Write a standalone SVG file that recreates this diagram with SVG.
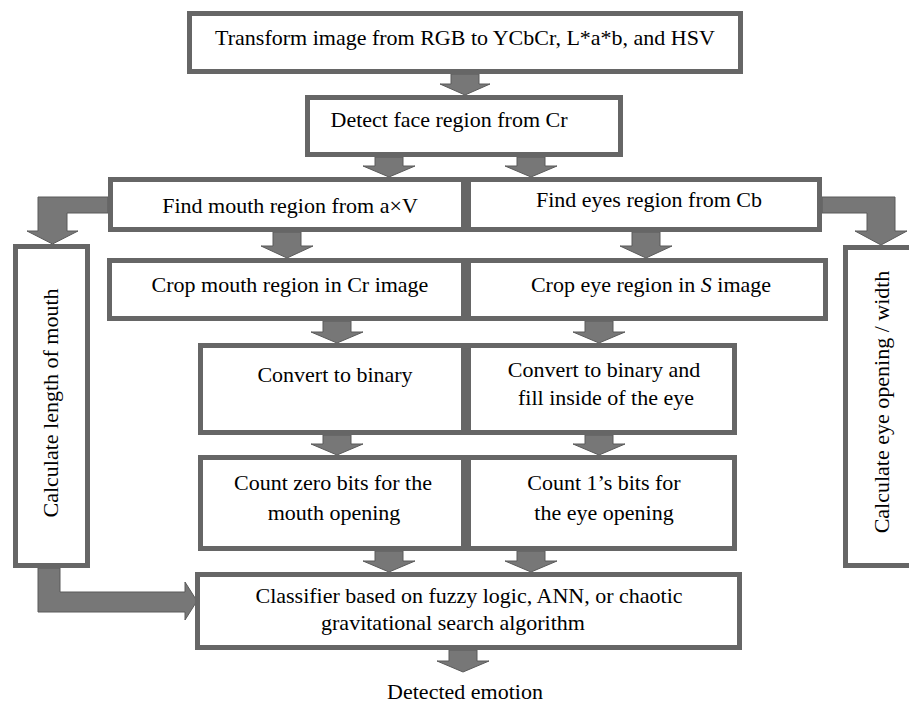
<svg xmlns="http://www.w3.org/2000/svg" width="909" height="708" viewBox="0 0 909 708">
<style>
.box{fill:#fff;stroke:#666;stroke-width:5}
.arr{fill:#777;stroke:#5a5a5a;stroke-width:1}
text{font-family:"Liberation Serif","Times New Roman",serif;font-size:22px;fill:#000}
.c{text-anchor:middle}
</style>
<rect width="909" height="708" fill="#fff"/>
<g id="connectors">
<path class="arr" d="M451,74 L479,74 L479,84 L490,84 L465,95 L440,84 L451,84 Z"/>
<path class="arr" d="M375,157 L403,157 L403,166 L415,166 L389,177 L363,166 L375,166 Z"/>
<path class="arr" d="M517,157 L545,157 L545,166 L557,166 L531,177 L505,166 L517,166 Z"/>
<path class="arr" d="M273,232 L301,232 L301,246 L313,246 L287,258 L261,246 L273,246 Z"/>
<path class="arr" d="M632,232 L660,232 L660,246 L672,246 L646,258 L620,246 L632,246 Z"/>
<path class="arr" d="M323,321 L351,321 L351,332 L363,332 L337,343 L311,332 L323,332 Z"/>
<path class="arr" d="M585,321 L613,321 L613,332 L625,332 L599,343 L573,332 L585,332 Z"/>
<path class="arr" d="M323,435 L351,435 L351,444 L363,444 L337,455 L311,444 L323,444 Z"/>
<path class="arr" d="M585,435 L613,435 L613,444 L625,444 L599,455 L573,444 L585,444 Z"/>
<path class="arr" d="M375,551 L403,551 L403,561 L415,561 L389,572 L363,561 L375,561 Z"/>
<path class="arr" d="M517,551 L545,551 L545,561 L557,561 L531,572 L505,561 L517,561 Z"/>
<path class="arr" d="M449,650 L477,650 L477,661 L489,661 L463,672 L437,661 L449,661 Z"/>
<path class="arr" d="M108,197 L38,197 L38,231 L27,231 L52.5,244 L78,231 L67,231 L67,213 L108,213 Z"/>
<path class="arr" d="M822,197 L895,197 L895,231 L907,231 L881,245 L855,231 L867,231 L867,213 L822,213 Z"/>
<path class="arr" d="M38,568 L60,568 L60,592 L185,592 L185,582 L197,601 L185,620 L185,612 L38,612 Z"/>
</g>
<g id="n1"><rect class="box" x="189.5" y="13.5" width="551" height="58"/><text class="c" x="465" y="45">Transform image from RGB to YCbCr, L*a*b, and HSV</text></g>
<g id="n2"><rect class="box" x="307.5" y="97.5" width="313" height="57"/><text class="c" x="449" y="127">Detect face region from Cr</text></g>
<g id="n3"><rect class="box" x="110.5" y="179.5" width="353" height="50"/><text class="c" x="290" y="213">Find mouth region from a×V</text></g>
<g id="n4"><rect class="box" x="468.5" y="179.5" width="351" height="50"/><text class="c" x="649" y="207">Find eyes region from Cb</text></g>
<g id="n5"><rect class="box" x="109.5" y="260.5" width="354" height="58"/><text class="c" x="290" y="292">Crop mouth region in Cr image</text></g>
<g id="n6"><rect class="box" x="468.5" y="260.5" width="357" height="58"/><text class="c" x="651" y="292">Crop eye region in <tspan font-style="italic">S</tspan> image</text></g>
<g id="n7"><rect class="box" x="200.5" y="345.5" width="263" height="87"/><text class="c" x="335" y="382">Convert to binary</text></g>
<g id="n8"><rect class="box" x="468.5" y="345.5" width="266" height="87"/><text class="c" x="604" y="377">Convert to binary and</text><text class="c" x="606" y="405">fill inside of the eye</text></g>
<g id="n9"><rect class="box" x="200.5" y="457.5" width="263" height="91"/><text class="c" x="333" y="490">Count zero bits for the</text><text class="c" x="334" y="520">mouth opening</text></g>
<g id="n10"><rect class="box" x="468.5" y="457.5" width="266" height="91"/><text class="c" x="604" y="490">Count 1’s bits for</text><text class="c" x="604" y="520">the eye opening</text></g>
<g id="n11"><rect class="box" x="197.5" y="574.5" width="542" height="73"/><text class="c" x="469" y="603">Classifier based on fuzzy logic, ANN, or chaotic</text><text class="c" x="453" y="630">gravitational search algorithm</text></g>
<g id="n12"><rect class="box" x="15.5" y="246.5" width="72" height="319"/><text class="c" transform="translate(58,403) rotate(-90)">Calculate length of mouth</text></g>
<g id="n13"><rect class="box" x="845.5" y="247.5" width="80" height="318"/><text class="c" transform="translate(889,402) rotate(-90)">Calculate eye opening / width</text></g>
<g id="n14"><text class="c" x="465" y="699">Detected emotion</text></g>
</svg>
